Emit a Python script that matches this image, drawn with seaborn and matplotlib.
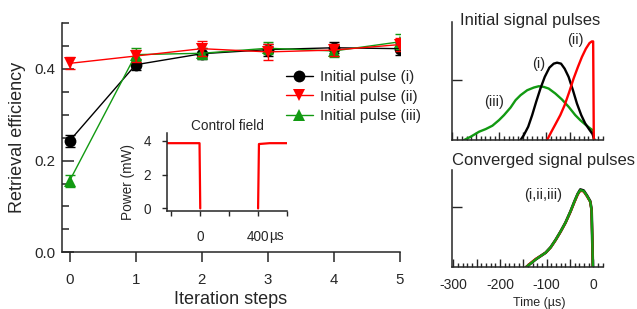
import numpy as np
import pandas as pd
import matplotlib
matplotlib.use("Agg")
import matplotlib.pyplot as plt
import seaborn as sns
from matplotlib.ticker import MultipleLocator, FuncFormatter, FixedLocator
from matplotlib.lines import Line2D

# ---------------- data ----------------
steps = [0, 1, 2, 3, 4, 5]
eff_i = [0.243, 0.409, 0.433, 0.442, 0.446, 0.444]
err_i = [0.013, 0.012, 0.012, 0.013, 0.012, 0.013]
eff_ii = [0.412, 0.428, 0.444, 0.437, 0.441, 0.453]
err_ii = [0.013, 0.014, 0.016, 0.018, 0.014, 0.014]
eff_iii = [0.156, 0.431, 0.434, 0.445, 0.439, 0.459]
err_iii = [0.013, 0.014, 0.012, 0.013, 0.013, 0.016]
series_labels = ["Initial pulse (i)", "Initial pulse (ii)", "Initial pulse (iii)"]

# control field inset (time in us, power in mW)
ctrl_t1 = [-228, -150, -80, -5, 0]
ctrl_p1 = [3.85, 3.85, 3.85, 3.85, 0.0]
ctrl_t2 = [400, 406, 480, 600]
ctrl_p2 = [0.0, 3.8, 3.85, 3.85]

# initial signal pulses (time in us, arb. units)
t_i = [-154.8, -147.7, -138.5, -130, -121.5, -112.4, -103.2, -93.3, -84.1, -77,
       -68.5, -60.8, -52.3, -43.1, -34.6, -25.4, -17, -8.5, -1.4, 2.8]
p_i = [0.0, 0.083, 0.222, 0.417, 0.639, 0.861, 1.056, 1.211, 1.278, 1.294,
       1.278, 1.194, 1.056, 0.833, 0.611, 0.417, 0.278, 0.178, 0.10, 0.0]
t_ii = [-98.2, -89, -80.6, -70, -60.8, -50.9, -41.7, -32.5, -24, -15.5, -7.8,
        -2.8, 0, 1.4]
p_ii = [0.0, 0.139, 0.261, 0.417, 0.583, 0.806, 1.028, 1.222, 1.389, 1.528,
        1.622, 1.65, 1.65, 0.0]
t_iii = [-275, -260.8, -243.1, -229, -214.8, -200.7, -190, -176, -165.4, -154.8,
         -140.6, -126.5, -115.9, -105.4, -94.8, -80.6, -66.5, -52.3, -38.2,
         -27.6, -17, -6.4, -1.4, 2]
p_iii = [0.0, 0.056, 0.139, 0.183, 0.239, 0.333, 0.417, 0.544, 0.667, 0.75,
         0.833, 0.878, 0.9, 0.889, 0.861, 0.778, 0.678, 0.556, 0.417, 0.333,
         0.261, 0.194, 0.167, 0.0]

# converged signal pulses
t_conv = [-144.2, -133.6, -123, -112.4, -101.8, -91.2, -80.6, -70, -59.4, -48.8,
          -40.3, -33.2, -27.6, -20.5, -13.4, -6.4, -3.5, -2.1, -0.7]
p_conv_i = [0.0, 0.067, 0.133, 0.189, 0.244, 0.333, 0.456, 0.594, 0.744, 0.928,
            1.094, 1.222, 1.295, 1.278, 1.195, 1.10, 0.96, 0.511, 0.0]
p_conv_ii = [0.0, 0.075, 0.140, 0.190, 0.244, 0.330, 0.452, 0.590, 0.740, 0.922,
             1.085, 1.212, 1.275, 1.262, 1.182, 1.09, 0.95, 0.511, 0.0]
p_conv_iii = [0.0, 0.067, 0.133, 0.189, 0.244, 0.333, 0.456, 0.594, 0.744, 0.928,
              1.094, 1.222, 1.285, 1.270, 1.189, 1.094, 0.956, 0.511, 0.0]

# ---------------- style ----------------
sns.set_style("ticks")
plt.rcParams["font.family"] = ["Liberation Sans", "DejaVu Sans"]
plt.rcParams["axes.unicode_minus"] = False
plt.rcParams["axes.linewidth"] = 1.1

BLACK = "#000000"
RED = "#ff0000"
GREEN = "#129a12"

fig = plt.figure(figsize=(6.37, 3.09), dpi=100)
W, H = 637.0, 309.0

def px_axes(l, t, r, b):
    return fig.add_axes([l / W, (H - b) / H, (r - l) / W, (b - t) / H])

# ---------------- main axes ----------------
ax = px_axes(61.7, 23, 400, 252.3)
series = [(eff_i, err_i, "o", BLACK, series_labels[0], 2),
          (eff_iii, err_iii, "^", GREEN, series_labels[2], 3),
          (eff_ii, err_ii, "v", RED, series_labels[1], 4)]
for vals, errs, mk, col, lab, z in series:
    ax.errorbar(steps, vals, yerr=errs, fmt="none", ecolor=col, elinewidth=1.0,
                capsize=3.6, capthick=1.0, zorder=z)
    sns.lineplot(x=steps, y=vals, marker=mk, color=col, markersize=8.5,
                 markeredgecolor=col, markeredgewidth=0, linewidth=1.0,
                 ax=ax, label=lab, zorder=z, legend=False)

ax.set_xlim(-0.12, 5)
ax.set_ylim(0, 0.5)
for s in ["top", "right"]:
    ax.spines[s].set_visible(False)
ax.yaxis.set_major_locator(MultipleLocator(0.2))
ax.yaxis.set_minor_locator(MultipleLocator(0.05))
ax.yaxis.set_major_formatter(FuncFormatter(lambda v, p: f"{v:.1f}"))
ax.xaxis.set_major_locator(MultipleLocator(1))
ax.tick_params(axis="y", which="major", direction="in", length=8.5, width=1.1,
               pad=4.5, labelsize=10.8)
ax.tick_params(axis="y", which="minor", direction="in", length=5, width=1.1)
ax.tick_params(axis="x", which="major", direction="out", length=7.5, width=1.1,
               pad=7.5, labelsize=10.8)
ax.set_xlabel("Iteration steps", fontsize=13, labelpad=3)
ax.set_ylabel("Retrieval efficiency", fontsize=13, labelpad=6)

handles = [Line2D([], [], color=BLACK, marker="o", markersize=8.5, lw=1.0, mew=0),
           Line2D([], [], color=RED, marker="v", markersize=8.5, lw=1.0, mew=0),
           Line2D([], [], color=GREEN, marker="^", markersize=8.5, lw=1.0, mew=0)]
fig.legend(handles, series_labels, loc="upper left",
           bbox_to_anchor=(286 / W, (H - 70) / H), frameon=False, fontsize=11,
           handlelength=1.75, handletextpad=0.5, labelspacing=0.37,
           borderpad=0, borderaxespad=0)

# ---------------- inset: control field ----------------
axi = px_axes(167, 133, 287, 211)
sns.lineplot(x=ctrl_t1, y=ctrl_p1, color=RED, linewidth=1.6, ax=axi, sort=False)
sns.lineplot(x=ctrl_t2, y=ctrl_p2, color=RED, linewidth=1.6, ax=axi, sort=False)
axi.set_xlim(-230, 600)
axi.set_ylim(-0.15, 4.45)
axi.set_facecolor("none")
for s in ["top", "right"]:
    axi.spines[s].set_visible(False)
axi.xaxis.set_major_locator(FixedLocator([-200, 0, 200, 400, 600]))
axi.xaxis.set_major_formatter(FuncFormatter(
    lambda v, p: {0: "0", 400: "400"}.get(int(round(v)), "")))
axi.yaxis.set_major_locator(FixedLocator([0, 2, 4]))
axi.tick_params(axis="both", direction="out", length=3.5, width=1.0, labelsize=9.8)
axi.tick_params(axis="x", pad=10)
axi.tick_params(axis="y", pad=8)
axi.set_title("Control field", fontsize=9.8, pad=1)
axi.set_ylabel("Power (mW)", fontsize=9.8)
axi.yaxis.set_label_coords(-0.27, 0.37)
axi.set_xlabel("")
fig.text(269 / W, (H - 236) / H, "µs", fontsize=9.8, ha="left", va="center")

# ---------------- right panels ----------------
def style_pulse_axes(a, labels):
    a.set_xlim(-302, 21)
    for s in ["top", "right"]:
        a.spines[s].set_visible(False)
    a.xaxis.set_major_locator(MultipleLocator(50))
    a.xaxis.set_minor_locator(MultipleLocator(10))
    if labels:
        a.xaxis.set_major_formatter(FuncFormatter(
            lambda v, p: f"{int(round(v))}" if int(round(v)) % 100 == 0 else ""))
    else:
        a.xaxis.set_major_formatter(FuncFormatter(lambda v, p: ""))
    a.yaxis.set_major_locator(FixedLocator([1]))
    a.yaxis.set_major_formatter(FuncFormatter(lambda v, p: ""))
    a.tick_params(axis="x", which="major", direction="in", length=6, width=1.0,
                  pad=7.5, labelsize=10)
    a.tick_params(axis="x", which="minor", direction="in", length=3, width=1.0)
    a.tick_params(axis="y", which="major", direction="in", length=7.5, width=1.0)
    a.set_xlabel("")
    a.set_ylabel("")

ax2 = px_axes(451.5, 21.7, 603, 140)
sns.lineplot(x=t_iii, y=p_iii, color=GREEN, linewidth=1.7, ax=ax2, sort=False)
sns.lineplot(x=t_i, y=p_i, color=BLACK, linewidth=1.7, ax=ax2, sort=False)
sns.lineplot(x=t_ii, y=p_ii, color=RED, linewidth=1.7, ax=ax2, sort=False)
ax2.set_ylim(0, 1.98)
style_pulse_axes(ax2, False)
ax2.text(-117, 1.28, "(i)", fontsize=10.5, ha="center", va="center")
ax2.text(-37, 1.67, "(ii)", fontsize=10.5, ha="center", va="center")
ax2.text(-212, 0.64, "(iii)", fontsize=10.5, ha="center", va="center")
fig.text(460 / W, (H - 20) / H, "Initial signal pulses", fontsize=12,
         ha="left", va="center")

ax3 = px_axes(452.3, 170, 603, 267.3)
sns.lineplot(x=t_conv, y=p_conv_i, color=BLACK, linewidth=2.0, ax=ax3, sort=False)
sns.lineplot(x=t_conv, y=p_conv_ii, color=RED, linewidth=1.7, ax=ax3, sort=False)
sns.lineplot(x=t_conv, y=p_conv_iii, color=GREEN, linewidth=1.7, ax=ax3, sort=False)
ax3.set_ylim(0, 1.62)
style_pulse_axes(ax3, True)
ax3.text(-107, 1.2, "(i,ii,iii)", fontsize=10.5, ha="center", va="center")
ax3.set_xlabel("Time (µs)", fontsize=9)
ax3.xaxis.set_label_coords(0.576, -0.31)
fig.text(451.7 / W, (H - 160) / H, "Converged signal pulses", fontsize=12,
         ha="left", va="center")

fig.savefig("out.png", dpi=100, facecolor="white")
